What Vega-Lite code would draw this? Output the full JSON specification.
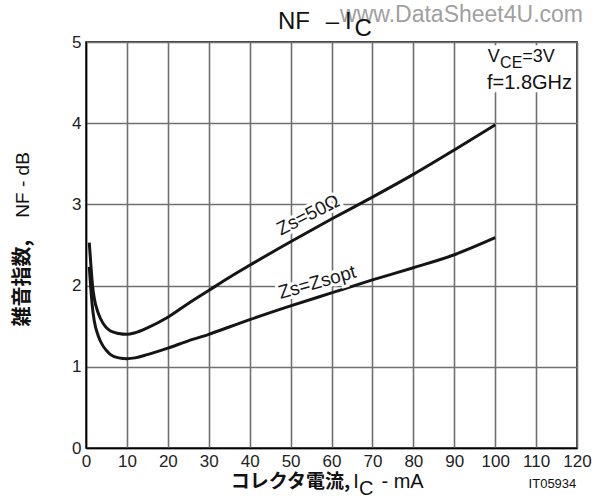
{
  "$schema": "https://vega.github.io/schema/vega-lite/v6.json",
  "width": 491,
  "height": 406,
  "autosize": "none",
  "padding": {"left": 86, "top": 42, "right": 21, "bottom": 51},
  "background": "white",
  "config": {
    "font": "Liberation Sans",
    "view": {"stroke": "black", "strokeWidth": 1.5},
    "axis": {
      "grid": true, "gridColor": "#707070", "gridWidth": 1.6, "gridOpacity": 1, "ticks": false,
      "labelFont": "Liberation Sans", "labelFontSize": 17, "labelColor": "#222",
      "domainColor": "black", "domainWidth": 1.5,
      "labelFlush": false, "labelOverlap": false
    }
  },
  "datasets": {
    "curves": [
      {"series": "Zs=50Ω", "x": 0.8, "y": 2.53},
      {"series": "Zs=50Ω", "x": 1.2, "y": 2.25},
      {"series": "Zs=50Ω", "x": 1.6, "y": 2.0},
      {"series": "Zs=50Ω", "x": 2, "y": 1.85},
      {"series": "Zs=50Ω", "x": 3, "y": 1.66},
      {"series": "Zs=50Ω", "x": 4, "y": 1.55},
      {"series": "Zs=50Ω", "x": 5, "y": 1.48},
      {"series": "Zs=50Ω", "x": 6, "y": 1.44},
      {"series": "Zs=50Ω", "x": 8, "y": 1.41},
      {"series": "Zs=50Ω", "x": 10, "y": 1.4},
      {"series": "Zs=50Ω", "x": 12, "y": 1.42},
      {"series": "Zs=50Ω", "x": 15, "y": 1.48},
      {"series": "Zs=50Ω", "x": 20, "y": 1.61},
      {"series": "Zs=50Ω", "x": 25, "y": 1.78},
      {"series": "Zs=50Ω", "x": 30, "y": 1.94},
      {"series": "Zs=50Ω", "x": 35, "y": 2.1},
      {"series": "Zs=50Ω", "x": 40, "y": 2.25},
      {"series": "Zs=50Ω", "x": 50, "y": 2.54},
      {"series": "Zs=50Ω", "x": 60, "y": 2.82},
      {"series": "Zs=50Ω", "x": 70, "y": 3.09},
      {"series": "Zs=50Ω", "x": 80, "y": 3.37},
      {"series": "Zs=50Ω", "x": 90, "y": 3.67},
      {"series": "Zs=50Ω", "x": 100, "y": 3.98},
      {"series": "Zs=Zsopt", "x": 0.8, "y": 2.23},
      {"series": "Zs=Zsopt", "x": 1.2, "y": 1.95},
      {"series": "Zs=Zsopt", "x": 1.6, "y": 1.72},
      {"series": "Zs=Zsopt", "x": 2, "y": 1.57},
      {"series": "Zs=Zsopt", "x": 3, "y": 1.38},
      {"series": "Zs=Zsopt", "x": 4, "y": 1.27},
      {"series": "Zs=Zsopt", "x": 5, "y": 1.2},
      {"series": "Zs=Zsopt", "x": 6, "y": 1.15},
      {"series": "Zs=Zsopt", "x": 8, "y": 1.11},
      {"series": "Zs=Zsopt", "x": 10, "y": 1.1},
      {"series": "Zs=Zsopt", "x": 12, "y": 1.11},
      {"series": "Zs=Zsopt", "x": 15, "y": 1.15},
      {"series": "Zs=Zsopt", "x": 20, "y": 1.23},
      {"series": "Zs=Zsopt", "x": 25, "y": 1.32},
      {"series": "Zs=Zsopt", "x": 30, "y": 1.4},
      {"series": "Zs=Zsopt", "x": 35, "y": 1.49},
      {"series": "Zs=Zsopt", "x": 40, "y": 1.58},
      {"series": "Zs=Zsopt", "x": 50, "y": 1.75},
      {"series": "Zs=Zsopt", "x": 60, "y": 1.91},
      {"series": "Zs=Zsopt", "x": 70, "y": 2.07},
      {"series": "Zs=Zsopt", "x": 80, "y": 2.22},
      {"series": "Zs=Zsopt", "x": 90, "y": 2.38},
      {"series": "Zs=Zsopt", "x": 100, "y": 2.59}
    ],
    "notes": [
      {"g": "title", "t": "NF", "x": 46.9, "y": 5.25},
      {"g": "title", "t": "–", "x": 58.6, "y": 5.25},
      {"g": "title", "t": "I", "x": 63.3, "y": 5.25},
      {"g": "title", "t": "C", "x": 65.6, "y": 5.16},
      {"g": "wm", "t": "www.DataSheet4U.com", "x": 62.1, "y": 5.33},
      {"g": "ann", "t": "V", "x": 98.2, "y": 4.81},
      {"g": "annsub", "t": "CE", "x": 101.2, "y": 4.74},
      {"g": "ann", "t": "=3V", "x": 106.6, "y": 4.81},
      {"g": "ann2", "t": "f=1.8GHz", "x": 98.0, "y": 4.5},
      {"g": "xjp", "t": "コレクタ電流,", "x": 35.4, "y": -0.42},
      {"g": "xn", "t": "I", "x": 65.3, "y": -0.42},
      {"g": "xn", "t": "C", "x": 66.7, "y": -0.5},
      {"g": "xn", "t": "-  mA", "x": 72.2, "y": -0.42},
      {"g": "code", "t": "IT05934", "x": 114.0, "y": -0.44},
      {"g": "yjp", "t": "雑音指数,", "x": -15.5, "y": 2.03},
      {"g": "yn", "t": "NF  -  dB", "x": -15.5, "y": 3.24}
    ],
    "box": [{"x": 98.5, "x2": 119.6, "y": 4.38, "y2": 4.96}],
    "lab50": [{"t": "Zs=50Ω", "x": 54.3, "y": 2.87}],
    "labopt": [{"t": "Zs=Zsopt", "x": 56.5, "y": 2.04}]
  },
  "encoding": {
    "x": {"field": "x", "type": "quantitative", "scale": {"domain": [0, 120], "nice": false, "zero": false},
          "axis": {"title": null, "grid": true, "gridColor": "#707070", "gridWidth": 1.6, "values": [0, 10, 20, 30, 40, 50, 60, 70, 80, 90, 100, 110, 120], "labelPadding": 5}},
    "y": {"field": "y", "type": "quantitative", "scale": {"domain": [0, 5], "nice": false, "zero": false},
          "axis": {"title": null, "grid": true, "gridColor": "#707070", "gridWidth": 1.6, "values": [0, 1, 2, 3, 4, 5], "labelPadding": 5}}
  },
  "layer": [
    {
      "data": {"name": "curves"},
      "mark": {"type": "line", "interpolate": "monotone", "strokeWidth": 3, "color": "#151515"},
      "encoding": {"detail": {"field": "series", "type": "nominal"}}
    },
    {
      "data": {"name": "box"},
      "mark": {"type": "rect", "color": "white"},
      "encoding": {"x2": {"field": "x2"}, "y2": {"field": "y2"}}
    },
    {
      "data": {"name": "lab50"},
      "layer": [
        {"mark": {"type": "text", "fontSize": 19, "angle": 333, "stroke": "white", "strokeWidth": 6, "fill": "white"}},
        {"mark": {"type": "text", "fontSize": 19, "angle": 333, "color": "#1a1a1a"}}
      ],
      "encoding": {"text": {"field": "t"}}
    },
    {
      "data": {"name": "labopt"},
      "layer": [
        {"mark": {"type": "text", "fontSize": 19, "angle": 344, "stroke": "white", "strokeWidth": 6, "fill": "white"}},
        {"mark": {"type": "text", "fontSize": 19, "angle": 344, "color": "#1a1a1a"}}
      ],
      "encoding": {"text": {"field": "t"}}
    },
    {
      "data": {"name": "notes"},
      "transform": [{"filter": "datum.g === 'wm'"}],
      "mark": {"type": "text", "align": "left", "baseline": "middle", "fontSize": 23, "color": "#a0a0a0"},
      "encoding": {"text": {"field": "t"}}
    },
    {
      "data": {"name": "notes"},
      "transform": [{"filter": "datum.g === 'title'"}],
      "mark": {"type": "text", "align": "left", "baseline": "middle", "fontSize": 24, "color": "#111"},
      "encoding": {"text": {"field": "t"}}
    },
    {
      "data": {"name": "notes"},
      "transform": [{"filter": "datum.g === 'ann'"}],
      "mark": {"type": "text", "align": "left", "baseline": "middle", "fontSize": 18, "color": "#111"},
      "encoding": {"text": {"field": "t"}}
    },
    {
      "data": {"name": "notes"},
      "transform": [{"filter": "datum.g === 'annsub'"}],
      "mark": {"type": "text", "align": "left", "baseline": "middle", "fontSize": 16, "color": "#111"},
      "encoding": {"text": {"field": "t"}}
    },
    {
      "data": {"name": "notes"},
      "transform": [{"filter": "datum.g === 'ann2'"}],
      "mark": {"type": "text", "align": "left", "baseline": "middle", "fontSize": 20, "color": "#111"},
      "encoding": {"text": {"field": "t"}}
    },
    {
      "data": {"name": "notes"},
      "transform": [{"filter": "datum.g === 'xjp'"}],
      "mark": {"type": "text", "align": "left", "baseline": "middle", "fontSize": 19, "fontWeight": "bold", "font": "Noto Sans CJK JP", "color": "#111"},
      "encoding": {"text": {"field": "t"}}
    },
    {
      "data": {"name": "notes"},
      "transform": [{"filter": "datum.g === 'xn'"}],
      "mark": {"type": "text", "align": "left", "baseline": "middle", "fontSize": 20, "color": "#111"},
      "encoding": {"text": {"field": "t"}}
    },
    {
      "data": {"name": "notes"},
      "transform": [{"filter": "datum.g === 'code'"}],
      "mark": {"type": "text", "align": "center", "baseline": "middle", "fontSize": 13, "color": "#111"},
      "encoding": {"text": {"field": "t"}}
    },
    {
      "data": {"name": "notes"},
      "transform": [{"filter": "datum.g === 'yjp'"}],
      "mark": {"type": "text", "align": "center", "baseline": "middle", "angle": 270, "fontSize": 20, "fontWeight": "bold", "font": "Noto Sans CJK JP", "color": "#111"},
      "encoding": {"text": {"field": "t"}}
    },
    {
      "data": {"name": "notes"},
      "transform": [{"filter": "datum.g === 'yn'"}],
      "mark": {"type": "text", "align": "center", "baseline": "middle", "angle": 270, "fontSize": 19, "color": "#111"},
      "encoding": {"text": {"field": "t"}}
    }
  ]
}
